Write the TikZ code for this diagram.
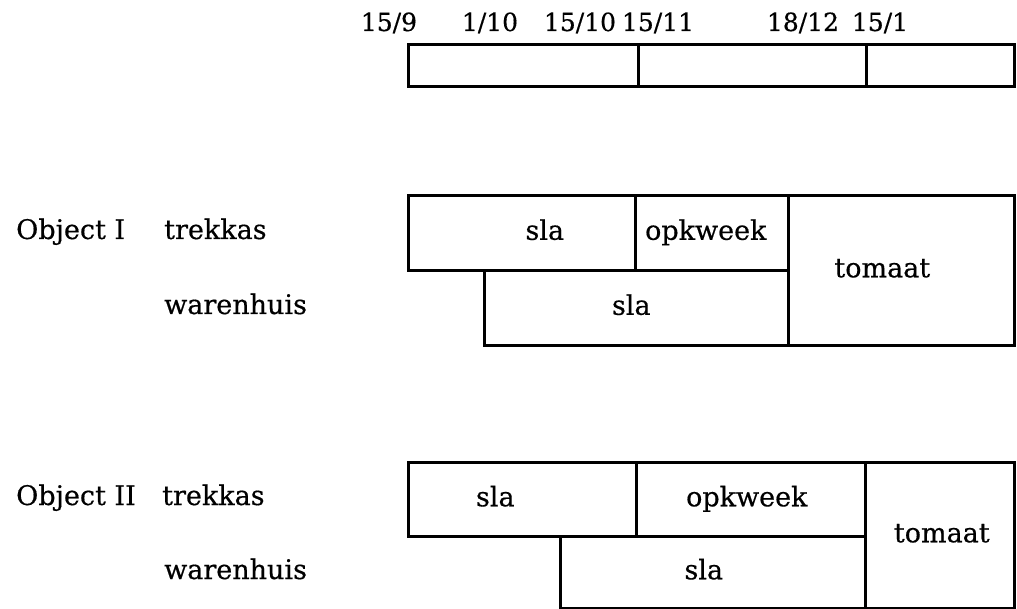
\documentclass[tikz,border=0pt]{standalone}
\usepackage{fontspec}
\setmainfont[FakeBold=0.5]{DejaVu Serif}
\begin{document}
\begin{tikzpicture}[x=1pt,y=-1pt,
  cell/.style={draw, line width=2.6pt, rectangle, inner sep=0pt, anchor=north west},
  datum/.style={inner sep=0pt, anchor=base, font=\fontsize{25}{29}\selectfont},
  lbl/.style={inner sep=0pt, anchor=base, font=\fontsize{27}{31}\selectfont},
  side/.style={inner sep=0pt, anchor=base west, font=\fontsize{27}{31}\selectfont}]
\useasboundingbox (0,0) rectangle (1017,609);

% time axis
\node[cell, minimum width=230pt, minimum height=42pt] (t1) at (407,43) {};
\node[cell, minimum width=228pt, minimum height=42pt] (t2) at (637,43) {};
\node[cell, minimum width=148pt, minimum height=42pt] (t3) at (865,43) {};
\node[datum] (d1) at (389,31) {15/9};
\node[datum] (d2) at (490,31) {1/10};
\node[datum] (d3) at (580,31) {15/10};
\node[datum] (d4) at (658,31) {15/11};
\node[datum] (d5) at (803,31) {18/12};
\node[datum] (d6) at (880,31) {15/1};

% Object I
\node[cell, minimum width=227pt, minimum height=75pt] (a1) at (407,194) {};
\node[cell, minimum width=153pt, minimum height=75pt] (a2) at (634,194) {};
\node[cell, minimum width=226pt, minimum height=150pt] (a3) at (787,194) {};
\node[cell, minimum width=304pt, minimum height=75pt] (a4) at (483,269) {};
\node[lbl] at ([xshift=23pt,yshift=-7pt]a1.center) {sla};
\node[lbl] at ([xshift=-6pt,yshift=-7pt]a2.center) {opkweek};
\node[lbl] at ([xshift=-19pt,yshift=-7pt]a3.center) {tomaat};
\node[lbl] at ([xshift=-5pt,yshift=-7pt]a4.center) {sla};
\node[side] (o1) at (16,239) {Object I};
\node[side] (k1) at (164,239) {trekkas};
\node[side] (w1) at (164,314) {warenhuis};

% Object II
\node[cell, minimum width=228pt, minimum height=74pt] (b1) at (407,461) {};
\node[cell, minimum width=229pt, minimum height=74pt] (b2) at (635,461) {};
\node[cell, minimum width=149pt, minimum height=146pt] (b3) at (864,461) {};
\node[cell, minimum width=305pt, minimum height=72pt] (b4) at (559,535) {};
\node[lbl] at ([xshift=-27pt,yshift=-7pt]b1.center) {sla};
\node[lbl] at ([xshift=-4pt,yshift=-7pt]b2.center) {opkweek};
\node[lbl] at ([xshift=2pt,yshift=-7pt]b3.center) {tomaat};
\node[lbl] at ([xshift=-9pt,yshift=-7pt]b4.center) {sla};
\node[side] (o2) at (16,505) {Object II};
\node[side] (k2) at (162,505) {trekkas};
\node[side] (w2) at (164,579) {warenhuis};
\end{tikzpicture}
\end{document}
